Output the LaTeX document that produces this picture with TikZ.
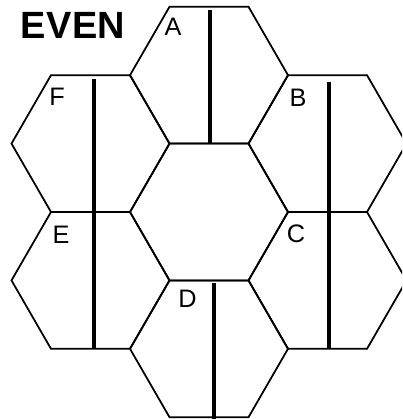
\documentclass[tikz,border=0pt]{standalone}
\usepackage{fontspec}
\setmainfont{Liberation Sans}
\begin{document}
\begin{tikzpicture}[x=0.25mm,y=-0.25mm,
		wabe/.style={line width=1.25pt, line join=miter},
		teiler/.style={line width=2.3pt},
		buchstabe/.style={font=\fontsize{18}{20}\selectfont, inner sep=0pt}]
	\useasboundingbox (0,0) rectangle (402,419);
	\clip (0,0) rectangle (402,419);
	
	% mittelpunkte
	\coordinate (M) at (209,212);
	\coordinate (A) at (209,75.2);
	\coordinate (B) at (327.5,143.6);
	\coordinate (C) at (327.5,280.4);
	\coordinate (D) at (209,348.8);
	\coordinate (E) at (90.5,280.4);
	\coordinate (F) at (90.5,143.6);
	
	% waben
	\foreach \z in {M,A,B,C,D,E,F} {
		\draw[wabe] ([shift={(\z)}]0:79) -- ++(120:79) -- ++(180:79) -- ++(240:79) -- ++(300:79) -- ++(0:79) -- cycle;
	}
	
	% teilung
	\draw[teiler] (210,10) -- (210,143.4);
	\draw[teiler] (94,79) -- (94,348.8);
	\draw[teiler] (329,82) -- (329,348.8);
	\draw[teiler] (214,283) -- (214,419);
	
	% labels
	\node[buchstabe] (labA) at (173,27) {A};
	\node[buchstabe] (labB) at (298,98) {B};
	\node[buchstabe] (labC) at (296,234) {C};
	\node[buchstabe] (labD) at (187.5,299) {D};
	\node[buchstabe] (labE) at (61,235) {E};
	\node[buchstabe] (labF) at (57,97) {F};
	
	\node[inner sep=0pt, font=\bfseries\fontsize{27}{29}\selectfont\addfontfeature{LetterSpace=1}] (titel) at (73,25) {EVEN};
	
\end{tikzpicture}
\end{document}
